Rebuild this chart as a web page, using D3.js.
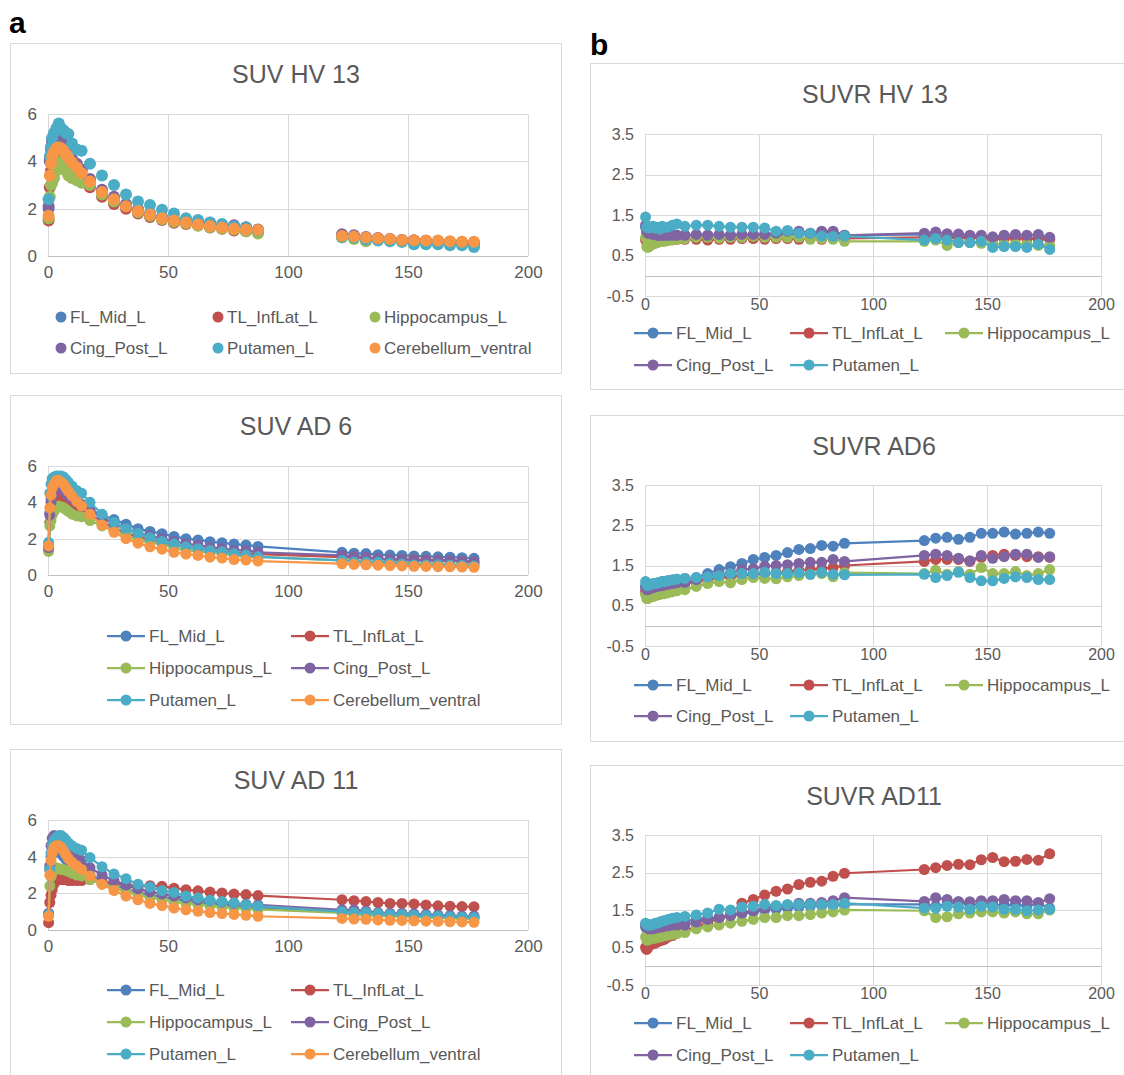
<!DOCTYPE html>
<html>
<head>
<meta charset="utf-8">
<script src="https://cdn.jsdelivr.net/npm/d3@7"></script>
<style>
  body { margin: 0; background: #fff; }
  text { font-family: "Liberation Sans", Arial, sans-serif; }
</style>
</head>
<body>
<script>
// frame mid-times (min)
const frameMid = [0.25, 0.75, 1.25, 1.75, 2.5, 3.5, 4.5, 5.5, 6.5, 7.5, 8.5, 10, 12, 14,
  17.5, 22.5, 27.5, 32.5, 37.5, 42.5, 47.5, 52.5, 57.5, 62.5, 67.5, 72.5, 77.5, 82.5, 87.5,
  122.5, 127.5, 132.5, 137.5, 142.5, 147.5, 152.5, 157.5, 162.5, 167.5, 172.5, 177.5];

const regions = ["FL_Mid_L", "TL_InfLat_L", "Hippocampus_L", "Cing_Post_L", "Putamen_L", "Cerebellum_ventral"];
const regionColors = ["#4f81bd", "#c0504d", "#9bbb59", "#8064a2", "#4bacc6", "#f79646"];

const xTicks = [0, 50, 100, 150, 200];
const suvTicks = [0, 2, 4, 6];
const suvrTicks = [-0.5, 0.5, 1.5, 2.5, 3.5];

// SUV, healthy volunteer 13
const suvHV13 = [
  [2.0,4.1,4.6,4.9,5.0,5.05,5.0,4.9,4.7,4.5,4.3,4.1,3.85,3.6, 3.2,2.75,2.45,2.15,1.95,1.78,1.62,1.52,1.45,1.38,1.33,1.27,1.22,1.18,1.1, 0.88,0.85,0.78,0.74,0.7,0.67,0.65,0.63,0.6,0.58,0.56,0.54],
  [1.5,2.9,3.6,4.0,4.3,4.5,4.6,4.5,4.4,4.2,4.0,3.7,3.4,3.2, 2.9,2.5,2.2,2.0,1.8,1.65,1.52,1.4,1.35,1.3,1.2,1.15,1.08,1.05,1.05, 0.85,0.8,0.75,0.72,0.7,0.65,0.65,0.62,0.6,0.58,0.55,0.55],
  [1.6,2.5,3.0,3.1,3.3,3.6,3.8,4.0,3.75,3.6,3.4,3.3,3.2,3.1, 3.0,2.6,2.3,2.1,1.85,1.7,1.55,1.45,1.38,1.28,1.22,1.15,1.12,1.05,0.95, 0.78,0.72,0.62,0.68,0.65,0.6,0.6,0.58,0.58,0.55,0.55,0.52],
  [2.1,4.0,4.5,4.8,4.9,5.0,4.95,4.85,4.7,4.5,4.3,4.1,3.9,3.65, 3.25,2.8,2.5,2.2,1.98,1.8,1.65,1.55,1.5,1.42,1.4,1.3,1.3,1.22,1.12, 0.92,0.88,0.8,0.76,0.72,0.68,0.66,0.64,0.62,0.6,0.58,0.55],
  [2.4,4.2,4.6,5.0,5.2,5.4,5.6,5.4,5.3,5.2,5.15,4.75,4.5,4.45, 3.9,3.4,3.0,2.6,2.3,2.15,1.95,1.8,1.6,1.52,1.42,1.35,1.25,1.2,1.08, 0.8,0.78,0.7,0.65,0.62,0.6,0.5,0.5,0.5,0.45,0.45,0.38],
  [1.7,3.4,3.9,4.2,4.4,4.55,4.6,4.55,4.45,4.3,4.15,3.95,3.75,3.5, 3.15,2.7,2.4,2.1,1.9,1.75,1.6,1.5,1.42,1.33,1.27,1.2,1.15,1.12,1.1, 0.85,0.82,0.78,0.75,0.72,0.68,0.67,0.65,0.65,0.62,0.6,0.6]
];

// SUV, AD patient 6
const suvAD6 = [
  [1.6,3.4,4.2,4.5,4.7,4.8,4.85,4.8,4.7,4.6,4.5,4.3,4.1,3.9, 3.6,3.3,3.05,2.8,2.55,2.4,2.27,2.12,2.0,1.93,1.83,1.77,1.7,1.65,1.57, 1.25,1.2,1.18,1.12,1.1,1.08,1.05,1.03,1.0,0.98,0.95,0.92],
  [1.4,2.9,3.6,4.0,4.2,4.35,4.4,4.3,4.2,4.1,3.95,3.8,3.65,3.5, 3.35,2.9,2.6,2.3,2.1,1.95,1.8,1.65,1.55,1.47,1.38,1.3,1.22,1.18,1.15, 0.98,0.95,0.92,0.9,0.85,0.85,0.84,0.83,0.8,0.78,0.76,0.72],
  [1.3,2.7,3.0,3.3,3.5,3.7,3.8,3.75,3.7,3.6,3.5,3.35,3.25,3.2, 3.0,2.7,2.45,2.2,1.9,1.8,1.7,1.5,1.35,1.32,1.22,1.18,1.1,1.0,1.0, 0.8,0.8,0.72,0.73,0.67,0.72,0.62,0.61,0.62,0.56,0.57,0.59],
  [1.5,3.3,4.0,4.4,4.6,4.75,4.8,4.75,4.65,4.5,4.35,4.2,4.0,3.8, 3.55,3.15,2.85,2.55,2.3,2.15,2.0,1.85,1.72,1.65,1.52,1.47,1.35,1.35,1.25, 1.08,1.03,0.98,0.9,0.84,0.87,0.81,0.8,0.82,0.8,0.75,0.72],
  [1.8,4.5,5.0,5.3,5.4,5.45,5.45,5.45,5.4,5.25,5.1,4.9,4.65,4.5, 4.0,3.35,2.9,2.55,2.3,2.05,1.85,1.7,1.55,1.45,1.35,1.28,1.18,1.1,1.0, 0.8,0.72,0.7,0.7,0.65,0.6,0.55,0.55,0.56,0.54,0.52,0.5],
  [1.6,3.7,4.4,4.8,5.0,5.2,5.2,5.1,5.0,4.8,4.6,4.35,4.05,3.8, 3.35,2.75,2.35,2.0,1.75,1.55,1.42,1.25,1.15,1.08,0.98,0.93,0.85,0.82,0.77, 0.62,0.58,0.56,0.54,0.52,0.5,0.48,0.47,0.46,0.45,0.44,0.42]
];

// SUV, AD patient 11
const suvAD11 = [
  [0.9,3.3,4.0,4.3,4.4,4.35,4.25,4.15,4.0,3.85,3.7,3.55,3.4,3.25, 3.0,2.7,2.45,2.25,2.05,1.92,1.8,1.7,1.6,1.52,1.45,1.38,1.32,1.28,1.22, 1.02,0.98,0.95,0.92,0.88,0.86,0.83,0.8,0.77,0.74,0.72,0.68],
  [0.4,1.5,1.9,2.2,2.5,2.7,2.8,2.75,2.75,2.75,2.7,2.7,2.7,2.7, 2.75,2.6,2.55,2.45,2.4,2.42,2.38,2.28,2.2,2.14,2.07,2.02,1.96,1.93,1.88, 1.65,1.6,1.55,1.5,1.45,1.45,1.42,1.37,1.32,1.3,1.28,1.27],
  [0.8,2.4,2.9,3.1,3.3,3.4,3.35,3.3,3.3,3.25,3.2,3.1,3.0,2.95, 2.75,2.5,2.3,2.1,1.92,1.78,1.65,1.55,1.45,1.38,1.32,1.25,1.2,1.16,1.12, 0.93,0.8,0.78,0.78,0.76,0.74,0.72,0.68,0.68,0.64,0.62,0.62],
  [0.9,3.5,4.6,5.0,5.15,5.1,5.0,4.85,4.7,4.5,4.35,4.2,4.0,3.8, 3.4,3.0,2.7,2.45,2.25,2.08,1.97,1.85,1.75,1.65,1.6,1.52,1.45,1.4,1.37, 1.1,1.1,1.03,0.95,0.91,0.91,0.88,0.85,0.82,0.79,0.75,0.76],
  [0.85,3.3,4.2,4.6,4.9,5.05,5.15,5.15,5.05,4.9,4.75,4.6,4.45,4.35, 3.95,3.45,3.05,2.8,2.5,2.35,2.15,2.05,1.85,1.75,1.62,1.55,1.48,1.38,1.3, 1.0,0.95,0.95,0.9,0.85,0.85,0.8,0.78,0.75,0.72,0.7,0.68],
  [0.75,3.0,3.8,4.2,4.5,4.6,4.6,4.5,4.3,4.1,3.9,3.7,3.5,3.3, 2.95,2.5,2.15,1.85,1.65,1.45,1.33,1.2,1.1,1.02,0.95,0.9,0.85,0.8,0.75, 0.63,0.6,0.58,0.55,0.53,0.52,0.5,0.48,0.47,0.45,0.44,0.42]
];

// SUVR (cerebellum reference), HV 13
const suvrHV13 = [
  [1.2,1.05,1.02,1.02,1.0,1.0,1.0,1.0,1.0,1.0,1.0,1.0,1.0,1.0, 1.0,1.0,1.0,1.0,1.0,1.0,1.0,1.0,1.02,1.0,1.05,1.0,1.05,1.05,1.0, 1.02,1.0,0.98,0.98,0.95,0.95,0.92,0.95,0.95,0.92,0.95,0.92],
  [0.88,0.9,0.9,0.9,0.88,0.88,0.9,0.9,0.9,0.9,0.9,0.88,0.9,0.9, 0.9,0.9,0.88,0.9,0.9,0.92,0.92,0.9,0.92,0.92,0.9,0.92,0.9,0.92,0.92, 0.95,0.95,0.92,0.95,0.92,0.95,0.9,0.92,0.92,0.92,0.9,0.9],
  [0.95,0.72,0.7,0.72,0.75,0.78,0.8,0.82,0.85,0.85,0.85,0.87,0.88,0.9, 0.92,0.95,0.95,0.93,0.95,0.95,0.97,0.95,0.95,0.95,0.95,0.9,0.92,0.9,0.85, 0.85,0.88,0.75,0.82,0.82,0.8,0.78,0.78,0.78,0.78,0.75,0.75],
  [1.25,1.1,1.05,1.05,1.05,1.02,1.02,1.0,1.0,1.0,1.0,1.0,1.0,1.0, 1.0,1.02,1.0,1.02,1.0,1.02,1.02,1.02,1.05,1.1,1.1,1.05,1.1,1.1,1.0, 1.05,1.08,1.04,1.03,1.0,1.0,0.96,1.0,1.02,1.0,1.02,0.95],
  [1.45,1.2,1.22,1.18,1.2,1.22,1.18,1.2,1.15,1.22,1.2,1.2,1.25,1.28, 1.22,1.25,1.25,1.22,1.2,1.2,1.2,1.18,1.1,1.12,1.05,1.05,0.98,0.97,0.98, 0.88,0.92,0.88,0.82,0.82,0.85,0.7,0.72,0.72,0.7,0.78,0.65]
];

// SUVR, AD 6
const suvrAD6 = [
  [1.0,0.98,0.98,1.0,1.02,1.03,1.05,1.06,1.08,1.1,1.1,1.12,1.14,1.16, 1.18,1.2,1.3,1.4,1.47,1.55,1.65,1.7,1.75,1.82,1.9,1.92,2.0,1.98,2.05, 2.12,2.18,2.2,2.15,2.2,2.3,2.3,2.33,2.28,2.3,2.33,2.3],
  [0.85,0.85,0.85,0.87,0.88,0.9,0.92,0.93,0.95,0.97,0.98,1.0,1.0,1.02, 1.05,1.1,1.15,1.2,1.22,1.25,1.28,1.3,1.32,1.35,1.38,1.4,1.42,1.45,1.5, 1.6,1.65,1.65,1.65,1.6,1.7,1.75,1.78,1.75,1.72,1.72,1.7],
  [0.78,0.68,0.68,0.7,0.72,0.73,0.75,0.77,0.78,0.8,0.8,0.82,0.85,0.87, 0.9,0.98,1.05,1.1,1.07,1.15,1.2,1.18,1.17,1.22,1.25,1.28,1.3,1.22,1.32, 1.3,1.38,1.28,1.35,1.28,1.45,1.3,1.3,1.35,1.25,1.3,1.4],
  [0.95,0.9,0.9,0.92,0.93,0.95,0.97,0.98,1.0,1.0,1.02,1.03,1.05,1.07, 1.08,1.15,1.22,1.28,1.32,1.4,1.42,1.48,1.5,1.52,1.55,1.58,1.58,1.65,1.6, 1.75,1.78,1.75,1.68,1.62,1.75,1.68,1.72,1.78,1.78,1.7,1.72],
  [1.1,1.02,1.0,1.02,1.03,1.05,1.05,1.07,1.08,1.1,1.1,1.12,1.14,1.16, 1.18,1.2,1.22,1.25,1.3,1.3,1.3,1.33,1.3,1.3,1.32,1.28,1.33,1.28,1.27, 1.28,1.2,1.25,1.33,1.2,1.12,1.12,1.18,1.22,1.2,1.15,1.15]
];

// SUVR, AD 11
const suvrAD11 = [
  [1.05,1.0,0.98,0.98,1.0,1.02,1.03,1.05,1.07,1.08,1.1,1.12,1.15,1.18, 1.2,1.25,1.28,1.3,1.35,1.4,1.45,1.5,1.52,1.55,1.58,1.6,1.62,1.62,1.65, 1.65,1.6,1.65,1.72,1.62,1.68,1.65,1.62,1.65,1.6,1.68,1.55],
  [0.5,0.45,0.5,0.55,0.58,0.6,0.62,0.65,0.68,0.7,0.72,0.78,0.82,0.88, 0.95,1.05,1.15,1.28,1.4,1.68,1.78,1.9,2.0,2.06,2.18,2.24,2.27,2.4,2.48, 2.58,2.63,2.69,2.72,2.71,2.84,2.9,2.79,2.8,2.85,2.83,3.0],
  [0.78,0.7,0.7,0.72,0.73,0.75,0.75,0.77,0.78,0.8,0.82,0.83,0.85,0.88, 0.9,1.0,1.05,1.1,1.15,1.2,1.25,1.3,1.3,1.35,1.35,1.38,1.42,1.45,1.5, 1.48,1.3,1.32,1.4,1.42,1.45,1.45,1.42,1.45,1.4,1.4,1.5],
  [1.1,1.05,1.02,1.0,1.0,1.0,1.02,1.03,1.05,1.05,1.07,1.08,1.1,1.1, 1.1,1.18,1.25,1.3,1.35,1.42,1.48,1.55,1.6,1.62,1.68,1.68,1.7,1.75,1.83, 1.73,1.83,1.78,1.72,1.72,1.75,1.75,1.78,1.75,1.75,1.7,1.8],
  [1.15,1.12,1.1,1.1,1.1,1.12,1.15,1.15,1.18,1.2,1.22,1.25,1.28,1.3, 1.33,1.37,1.42,1.52,1.5,1.58,1.6,1.65,1.62,1.65,1.65,1.65,1.65,1.65,1.68, 1.55,1.55,1.6,1.58,1.52,1.6,1.58,1.52,1.52,1.48,1.5,1.52]
];

const width = 1124,
      height = 1075;

const svg = d3.select("body")
    .append("svg")
    .attr("width", width)
    .attr("height", height);

const grid = "#d9d9d9",
      textGrey = "#595959";

// layout of each chart box (positions only)
const panels = [
  { title: "SUV HV 13", data: suvHV13, lines: false, box: [10, 43, 551, 330],
    plot: [48, 528, 114, 256], yDomain: [0, 6], yTicks: suvTicks, titleXY: [296, 83], tickSize: 17,
    legend: { cols: [[null, 61, 70], [null, 218, 227], [null, 375, 384]], rows: [317, 348], perRow: 3 } },
  { title: "SUV AD 6", data: suvAD6, lines: true, box: [10, 395, 551, 329],
    plot: [48, 528, 466, 575], yDomain: [0, 6], yTicks: suvTicks, titleXY: [296, 435], tickSize: 17,
    legend: { cols: [[107, 126, 149], [291, 310, 333]], rows: [636, 668, 700], perRow: 2 } },
  { title: "SUV AD 11", data: suvAD11, lines: true, box: [10, 749, 551, 340],
    plot: [48, 528, 820, 930], yDomain: [0, 6], yTicks: suvTicks, titleXY: [296, 789], tickSize: 17,
    legend: { cols: [[107, 126, 149], [291, 310, 333]], rows: [990, 1022, 1054], perRow: 2 } },
  { title: "SUVR HV 13", data: suvrHV13, lines: true, box: [590, 63, 560, 326],
    plot: [645, 1101, 134, 296], yDomain: [-0.5, 3.5], yTicks: suvrTicks, titleXY: [875, 103], tickSize: 16,
    legend: { cols: [[634, 653, 676], [790, 809, 832], [945, 964, 987]], rows: [333, 365], perRow: 3 } },
  { title: "SUVR AD6", data: suvrAD6, lines: true, box: [590, 415, 560, 326],
    plot: [645, 1101, 485, 646], yDomain: [-0.5, 3.5], yTicks: suvrTicks, titleXY: [874, 455], tickSize: 16,
    legend: { cols: [[634, 653, 676], [790, 809, 832], [945, 964, 987]], rows: [685, 716], perRow: 3 } },
  { title: "SUVR AD11", data: suvrAD11, lines: true, box: [590, 765, 560, 340],
    plot: [645, 1101, 835, 985], yDomain: [-0.5, 3.5], yTicks: suvrTicks, titleXY: [874, 805], tickSize: 16,
    legend: { cols: [[634, 653, 676], [790, 809, 832], [945, 964, 987]], rows: [1023, 1055], perRow: 3 } }
];

const drawPanel = (p) => {
  const g = svg.append("g");

  g.append("rect")
      .attr("x", p.box[0] + 0.5)
      .attr("y", p.box[1] + 0.5)
      .attr("width", p.box[2])
      .attr("height", p.box[3])
      .attr("fill", "#fff")
      .attr("stroke", grid);

  g.append("text")
      .attr("x", p.titleXY[0])
      .attr("y", p.titleXY[1])
      .attr("text-anchor", "middle")
      .attr("font-size", 25)
      .attr("fill", textGrey)
      .text(p.title);

  const x = d3.scaleLinear()
      .domain([0, 200])
      .range([p.plot[0], p.plot[1]]);

  const y = d3.scaleLinear()
      .domain(p.yDomain)
      .range([p.plot[3], p.plot[2]]);

  // grid
  g.selectAll("line.hgrid")
      .data(p.yTicks)
      .enter().append("line")
      .attr("class", "hgrid")
      .attr("x1", x(0)).attr("x2", x(200))
      .attr("y1", d => Math.round(y(d)) + 0.5)
      .attr("y2", d => Math.round(y(d)) + 0.5)
      .attr("stroke", grid);

  g.selectAll("line.vgrid")
      .data(xTicks)
      .enter().append("line")
      .attr("class", "vgrid")
      .attr("x1", d => Math.round(x(d)) + 0.5)
      .attr("x2", d => Math.round(x(d)) + 0.5)
      .attr("y1", y(p.yDomain[0])).attr("y2", y(p.yDomain[1]))
      .attr("stroke", grid);

  // zero line
  g.append("line")
      .attr("x1", x(0)).attr("x2", x(200))
      .attr("y1", Math.round(y(0)) + 0.5)
      .attr("y2", Math.round(y(0)) + 0.5)
      .attr("stroke", "#bfbfbf")
      .attr("stroke-width", 1.2);

  // axes
  const yAxis = g.append("g")
      .attr("transform", `translate(${x(0)},0)`)
      .call(d3.axisLeft(y)
        .tickValues(p.yTicks)
        .tickSize(0)
        .tickPadding(11)
        .tickFormat(d => String(d)));

  const xAxis = g.append("g")
      .attr("transform", `translate(0,${y(p.yDomain[0])})`)
      .call(d3.axisBottom(x)
        .tickValues(xTicks)
        .tickSize(0)
        .tickPadding(p.lines && p.yDomain[0] < 0 ? 3 : 10));

  [yAxis, xAxis].forEach(a => {
    a.select(".domain").remove();
    a.selectAll("text")
      .attr("font-family", '"Liberation Sans", Arial, sans-serif')
      .attr("font-size", p.tickSize)
      .attr("fill", textGrey);
  });

  // series
  const line = d3.line()
      .x((d, i) => x(frameMid[i]))
      .y(d => y(d));

  p.data.forEach((vals, s) => {
    const sg = g.append("g");
    if (p.lines) {
      sg.append("path")
          .datum(vals)
          .attr("d", line)
          .attr("fill", "none")
          .attr("stroke", regionColors[s])
          .attr("stroke-width", 2.25);
    }
    sg.selectAll("circle")
        .data(vals)
        .enter().append("circle")
        .attr("cx", (d, i) => x(frameMid[i]))
        .attr("cy", d => y(d))
        .attr("r", p.lines ? 5.5 : 6)
        .attr("fill", regionColors[s]);
  });

  // legend
  p.data.forEach((vals, s) => {
    const col = p.legend.cols[s % p.legend.perRow],
          ry = p.legend.rows[Math.floor(s / p.legend.perRow)];
    if (col[0] !== null) {
      g.append("line")
          .attr("x1", col[0]).attr("x2", col[0] + 38)
          .attr("y1", ry).attr("y2", ry)
          .attr("stroke", regionColors[s])
          .attr("stroke-width", 2.25);
    }
    g.append("circle")
        .attr("cx", col[1])
        .attr("cy", ry)
        .attr("r", 5.5)
        .attr("fill", regionColors[s]);
    g.append("text")
        .attr("x", col[2])
        .attr("y", ry)
        .attr("dy", "0.36em")
        .attr("font-size", 17)
        .attr("fill", textGrey)
        .text(regions[s]);
  });
};

panels.forEach(drawPanel);

// panel letters
svg.append("text")
    .attr("x", 9).attr("y", 33)
    .attr("font-size", 30).attr("font-weight", "bold")
    .text("a");
svg.append("text")
    .attr("x", 590).attr("y", 55)
    .attr("font-size", 30).attr("font-weight", "bold")
    .text("b");
</script>
</body>
</html>
